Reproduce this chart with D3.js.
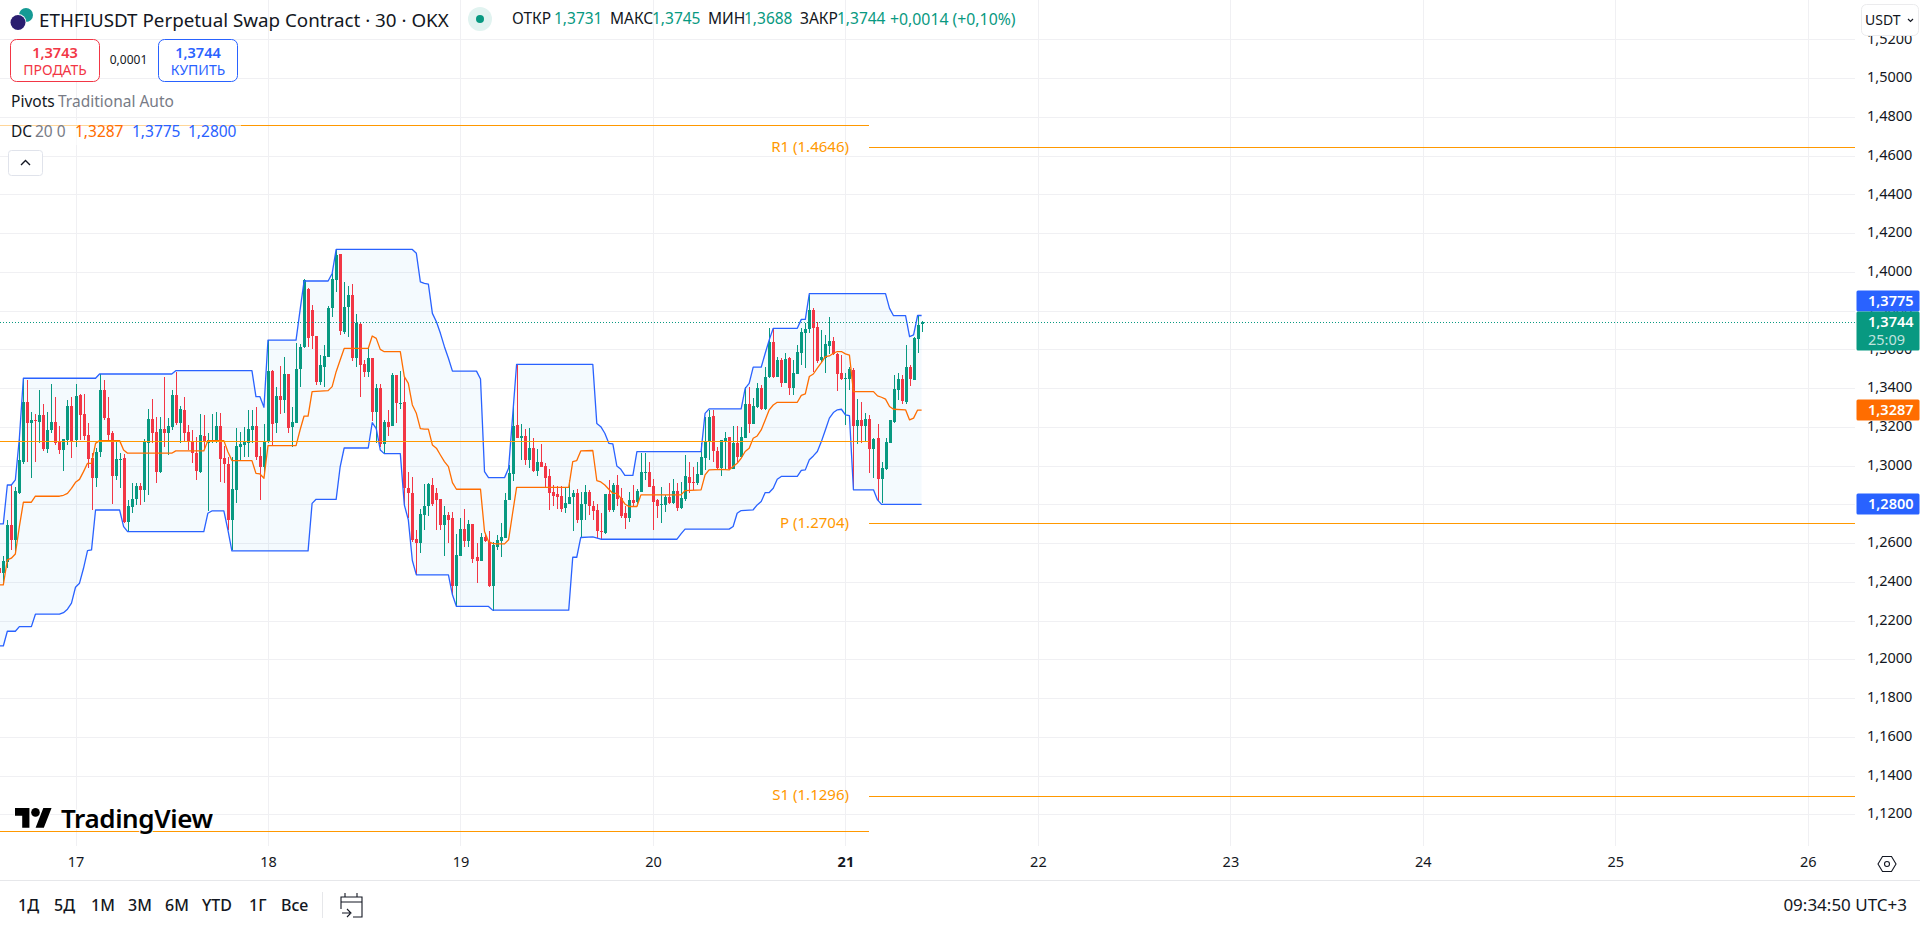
<!DOCTYPE html>
<html lang="ru">
<head>
<meta charset="utf-8">
<title>ETHFIUSDT Perpetual Swap Contract</title>
<script src="https://cdn.jsdelivr.net/npm/d3@7/dist/d3.min.js"></script>
<style>
html,body{margin:0;padding:0;background:#fff;overflow:hidden}
svg{display:block}
text{font-family:"Noto Sans","Open Sans",Roboto,sans-serif}
</style>
</head>
<body>
<svg id="chart" width="1920" height="929"></svg>
<script>
// Half-hour bars, counted from midnight of the 17th; the first bar is number -19.
const firstBar = -19;
const opens = [
1.2470,1.2444,1.2505,1.2694,1.2616,1.2861,1.3017,1.3327,1.3222,1.3234,1.3227,1.3261,1.3088,1.3184,1.3225,1.3122,1.3081,1.3132,1.3308,
1.3132,1.3365,1.3267,1.3158,1.3038,1.2936,1.3072,1.3390,1.3246,1.3169,1.2947,1.3029,1.3040,1.2711,1.2788,1.2828,1.2895,1.2874,1.3119,1.3241,
1.3174,1.2967,1.3189,1.3170,1.3201,1.3365,1.3222,1.3287,1.3174,1.3129,1.3067,1.2967,1.3153,1.3115,1.3129,1.3122,1.3205,1.3040,1.3009,1.2721,
1.2874,1.3098,1.3107,1.3115,1.3184,1.3205,1.3050,1.2991,
1.3124,1.3488,1.3218,1.3359,1.3339,1.3473,1.3201,1.3222,1.3497,1.3611,1.3912,1.3803,1.3669,1.3433,1.3511,1.3562,1.3814,1.3958,1.4092,1.3690,
1.3820,1.3881,1.3556,1.3731,1.3525,1.3483,1.3556,1.3279,1.3401,1.3112,1.3225,1.3205,1.3470,1.3318,1.3327,1.2883,1.2857,1.2620,1.2603,1.2747,
1.2789,1.2900,1.2857,1.2828,1.2694,1.2746,1.2728,1.2376,1.2536,1.2673,1.2613,1.2699,
1.2527,1.2510,1.2634,1.2608,1.2379,1.2582,1.2613,1.2625,1.2820,1.2957,1.3210,1.3141,1.3153,1.3029,1.3091,1.2971,1.3019,1.2998,1.2947,1.2864,
1.2851,1.2844,1.2782,1.2802,1.2840,1.2861,1.2720,1.2802,1.2864,1.2792,1.2771,1.2663,1.2651,1.2854,1.2771,1.2900,1.2832,1.2754,1.2730,1.2823,
1.2813,1.2866,1.2964,1.2967,
1.2897,1.2820,1.2799,1.2799,1.2838,1.2806,1.2871,1.2782,1.2827,1.2940,1.2913,1.2909,1.2952,1.3038,1.3126,1.3257,1.3076,1.2987,1.3129,1.3147,
1.2983,1.3116,1.3047,1.3141,1.3317,1.3215,1.3301,1.3401,1.3293,1.3456,1.3640,1.3460,1.3546,1.3425,1.3554,1.3401,1.3473,1.3583,1.3683,1.3704,
1.3804,1.3714,1.3546,1.3554,1.3618,1.3644,1.3577,1.3477,
1.3448,1.3448,1.3494,1.3202,1.3236,1.3205,1.3239,1.3086,1.3141,1.2933,1.2981,1.3119,1.3227,1.3391,1.3448,1.3331,1.3508,1.3442,1.3654,1.3731
];
const closes = [
1.2444,1.2508,1.2694,1.2616,1.2869,1.3029,1.3327,1.3222,1.3236,1.3230,1.3261,1.3086,1.3184,1.3225,1.3115,1.3081,1.3136,1.3308,1.3129,
1.3359,1.3261,1.3153,1.3036,1.2936,1.3071,1.3390,1.3248,1.3158,1.2947,1.3034,1.3034,1.2711,1.2792,1.2828,1.2895,1.2874,1.3122,1.3241,1.3170,
1.2967,1.3189,1.3170,1.3205,1.3365,1.3218,1.3292,1.3170,1.3124,1.3064,1.2972,1.3158,1.3122,1.3132,1.3132,1.3205,1.3036,1.3009,1.2720,1.2880,
1.3101,1.3112,1.3122,1.3189,1.3205,1.3046,1.2991,1.3127,
1.3488,1.3215,1.3359,1.3339,1.3473,1.3194,1.3225,1.3499,1.3614,1.3958,1.3657,1.3669,1.3433,1.3519,1.3566,1.3814,1.3963,1.4087,1.3695,1.3817,
1.3881,1.3556,1.3738,1.3519,1.3483,1.3556,1.3279,1.3401,1.3112,1.3227,1.3201,1.3470,1.3325,1.3325,1.2884,1.2857,1.2617,1.2603,1.2751,1.2792,
1.2906,1.2802,1.2823,1.2694,1.2746,1.2720,1.2379,1.2539,1.2672,1.2613,1.2699,1.2519,
1.2510,1.2634,1.2613,1.2379,1.2591,1.2617,1.2634,1.2823,1.2961,1.3205,1.3143,1.3153,1.3029,1.3091,1.2974,1.3019,1.2995,1.2937,1.2857,1.2844,
1.2840,1.2778,1.2806,1.2840,1.2861,1.2720,1.2802,1.2864,1.2789,1.2768,1.2660,1.2658,1.2854,1.2771,1.2900,1.2830,1.2740,1.2730,1.2823,1.2806,
1.2871,1.2967,1.2967,1.2892,
1.2814,1.2792,1.2802,1.2837,1.2809,1.2871,1.2782,1.2834,1.2947,1.2909,1.2909,1.2957,1.3042,1.3129,1.3253,1.3073,1.2987,1.3133,1.3141,1.2981,
1.3116,1.3047,1.3147,1.3319,1.3215,1.3308,1.3401,1.3293,1.3456,1.3640,1.3460,1.3546,1.3425,1.3551,1.3399,1.3480,1.3585,1.3688,1.3707,1.3804,
1.3709,1.3542,1.3559,1.3628,1.3644,1.3577,1.3473,1.3446,
1.3451,1.3497,1.3202,1.3236,1.3202,1.3239,1.3086,1.3138,1.2933,1.2987,1.3122,1.3233,1.3394,1.3448,1.3334,1.3508,1.3446,1.3657,1.3726,1.3744
];
const highs = [
1.2496,1.2534,1.2720,1.2900,1.2892,1.3141,1.3451,1.3442,1.3279,1.3267,1.3390,1.3318,1.3277,1.3421,1.3354,1.3205,1.3140,1.3339,1.3356,
1.3421,1.3370,1.3368,1.3222,1.3064,1.3089,1.3473,1.3442,1.3356,1.3179,1.3132,1.3064,1.3060,1.2823,1.2909,1.2909,1.2909,1.3136,1.3292,1.3344,
1.3253,1.3253,1.3457,1.3244,1.3390,1.3485,1.3308,1.3356,1.3210,1.3184,1.3150,1.3267,1.3261,1.3167,1.3267,1.3275,1.3270,1.3101,1.3046,1.3046,
1.3193,1.3174,1.3201,1.3287,1.3287,1.3304,1.3098,1.3215,
1.3648,1.3494,1.3408,1.3514,1.3562,1.3473,1.3304,1.3631,1.3628,1.3961,1.3915,1.3829,1.3669,1.3569,1.3623,1.3824,1.3992,1.4113,1.4092,1.3949,
1.3927,1.3937,1.3783,1.3734,1.3545,1.3605,1.3556,1.3421,1.3421,1.3236,1.3287,1.3476,1.3470,1.3488,1.3459,1.2969,1.2943,1.2668,1.2775,1.2906,
1.2912,1.2935,1.2883,1.2828,1.2789,1.2758,1.2758,1.2648,1.2728,1.2775,1.2720,1.2699,
1.2599,1.2651,1.2654,1.2660,1.2608,1.2642,1.2703,1.2857,1.3004,1.3305,1.3520,1.3215,1.3188,1.3195,1.3141,1.3088,1.3112,1.3012,1.2981,1.2900,
1.2895,1.2895,1.2892,1.2926,1.2875,1.2878,1.2866,1.2900,1.2875,1.2816,1.2802,1.2754,1.2854,1.2926,1.2912,1.2952,1.2883,1.2789,1.2866,1.2900,
1.2878,1.3067,1.3064,1.3019,
1.2930,1.2826,1.2888,1.2849,1.2909,1.2930,1.2912,1.2918,1.3055,1.3021,1.2995,1.3021,1.3116,1.3253,1.3288,1.3288,1.3098,1.3133,1.3176,1.3147,
1.3202,1.3202,1.3198,1.3408,1.3408,1.3348,1.3429,1.3417,1.3511,1.3709,1.3704,1.3559,1.3554,1.3580,1.3559,1.3546,1.3623,1.3709,1.3735,1.3881,
1.3812,1.3743,1.3700,1.3675,1.3769,1.3666,1.3580,1.3571,
1.3477,1.3511,1.3503,1.3343,1.3331,1.3270,1.3262,1.3141,1.3215,1.3021,1.3141,1.3236,1.3468,1.3477,1.3468,1.3623,1.3520,1.3666,1.3778,1.3745
];
const lows = [
1.2384,1.2393,1.2470,1.2565,1.2548,1.2854,1.3007,1.3021,1.2935,1.3021,1.3115,1.3077,1.3064,1.3170,1.3107,1.3060,1.2974,1.3107,1.3040,
1.3098,1.3132,1.3132,1.2986,1.2771,1.2892,1.3046,1.3236,1.3132,1.2802,1.2926,1.2883,1.2702,1.2659,1.2754,1.2797,1.2797,1.2814,1.2849,1.3115,
1.2909,1.2960,1.3098,1.3055,1.3184,1.3210,1.3119,1.3124,1.3081,1.3012,1.2926,1.2960,1.3081,1.2766,1.3115,1.3115,1.2917,1.2909,1.2668,1.2565,
1.2806,1.3029,1.3043,1.3046,1.3115,1.3029,1.2823,1.2960,
1.3115,1.3107,1.3170,1.3267,1.3270,1.3167,1.3095,1.3218,1.3408,1.3605,1.3611,1.3604,1.3416,1.3416,1.3408,1.3562,1.3769,1.3898,1.3674,1.3679,
1.3662,1.3542,1.3507,1.3353,1.3459,1.3459,1.3232,1.3115,1.3098,1.3064,1.3153,1.3205,1.3218,1.3294,1.2797,1.2728,1.2608,1.2436,1.2551,1.2668,
1.2740,1.2792,1.2668,1.2668,1.2531,1.2603,1.2333,1.2273,1.2534,1.2582,1.2582,1.2496,
1.2396,1.2510,1.2608,1.2372,1.2252,1.2565,1.2527,1.2625,1.2820,1.2923,1.3141,1.3029,1.3004,1.2986,1.2969,1.2947,1.2995,1.2888,1.2771,1.2792,
1.2775,1.2761,1.2754,1.2802,1.2665,1.2703,1.2634,1.2720,1.2746,1.2720,1.2625,1.2620,1.2646,1.2763,1.2763,1.2789,1.2728,1.2672,1.2711,1.2789,
1.2789,1.2866,1.2926,1.2888,
1.2668,1.2728,1.2703,1.2758,1.2802,1.2802,1.2768,1.2775,1.2815,1.2858,1.2875,1.2901,1.2952,1.2978,1.3030,1.3021,1.2978,1.2944,1.2978,1.2978,
1.2983,1.3021,1.3047,1.3141,1.3167,1.3215,1.3296,1.3288,1.3288,1.3451,1.3451,1.3456,1.3405,1.3425,1.3365,1.3365,1.3473,1.3520,1.3503,1.3683,
1.3485,1.3528,1.3537,1.3480,1.3577,1.3571,1.3387,1.3442,
1.3210,1.3391,1.2875,1.3112,1.3116,1.3124,1.2961,1.2935,1.2815,1.2806,1.2978,1.3116,1.3222,1.3339,1.3317,1.3317,1.3411,1.3442,1.3580,1.3688
];

// Donchian channel: bar number paired with the level at that bar.
const upperBand = [[-19,1.2699],[-18,1.2699],[-17,1.2900],[-16,1.2900],[-15,1.2926],[-14,1.3141],[-13,1.3451],[5,1.3451],[6,1.3473],[24,1.3473],[25,1.3490],[44,1.3490],[45,1.3356],[46,1.3356],[47,1.3301],[48,1.3648],[55,1.3648],[56,1.3803],[57,1.3953],[63,1.3953],[64,1.3992],[65,1.4116],[84,1.4116],[85,1.4096],[86,1.3949],[87,1.3941],[88,1.3937],[89,1.3786],[90,1.3743],[91,1.3683],[92,1.3614],[93,1.3554],[94,1.3488],[100,1.3488],[101,1.3447],[102,1.2969],[103,1.2938],[107,1.2938],[108,1.2986],[109,1.3253],[110,1.3523],[129,1.3523],[130,1.3218],[131,1.3201],[132,1.3167],[133,1.3115],[134,1.3112],[135,1.2998],[136,1.2981],[137,1.2950],[139,1.2950],[140,1.3072],[156,1.3073],[157,1.3270],[158,1.3293],[166,1.3293],[167,1.3399],[168,1.3425],[169,1.3508],[171,1.3508],[172,1.3580],[173,1.3649],[174,1.3709],[180,1.3709],[181,1.3755],[182,1.3755],[183,1.3888],[202,1.3888],[203,1.3812],[204,1.3774],[207,1.3774],[208,1.3666],[209,1.3675],[210,1.3775],[211,1.3775]];
const lowerBand = [[-19,1.2069],[-18,1.2069],[-17,1.2145],[-15,1.2145],[-14,1.2169],[-11,1.2169],[-10,1.2233],[-4,1.2233],[-3,1.2241],[-2,1.2259],[-1,1.2290],[0,1.2372],[1,1.2393],[2,1.2470],[3,1.2561],[4,1.2565],[5,1.2771],[11,1.2771],[12,1.2685],[13,1.2659],[32,1.2659],[33,1.2754],[34,1.2766],[37,1.2766],[38,1.2668],[39,1.2560],[58,1.2560],[59,1.2805],[60,1.2826],[65,1.2826],[66,1.2994],[67,1.3091],[73,1.3091],[74,1.3222],[75,1.3191],[76,1.3081],[77,1.3062],[81,1.3062],[82,1.2797],[83,1.2720],[84,1.2510],[85,1.2436],[93,1.2436],[94,1.2333],[95,1.2273],[103,1.2273],[104,1.2254],[123,1.2254],[124,1.2527],[125,1.2527],[126,1.2629],[129,1.2632],[131,1.2620],[150,1.2620],[151,1.2648],[152,1.2672],[163,1.2672],[164,1.2686],[165,1.2754],[166,1.2768],[169,1.2772],[170,1.2797],[171,1.2815],[172,1.2861],[173,1.2861],[174,1.2883],[175,1.2930],[176,1.2944],[180,1.2944],[181,1.2975],[182,1.2978],[183,1.3030],[184,1.3050],[185,1.3073],[186,1.3124],[187,1.3184],[188,1.3245],[189,1.3274],[190,1.3288],[191,1.3291],[192,1.3262],[193,1.3258],[194,1.2875],[199,1.2875],[200,1.2823],[201,1.2800],[211,1.2800]];
const basisBand = [[-19,1.2384],[-18,1.2384],[-17,1.2513],[-16,1.2522],[-15,1.2544],[-14,1.2685],[-13,1.2811],[-11,1.2811],[-10,1.2842],[-4,1.2842],[-3,1.2847],[-2,1.2857],[-1,1.2883],[0,1.2914],[1,1.2929],[2,1.2969],[3,1.3012],[4,1.3012],[5,1.3115],[6,1.3129],[11,1.3129],[12,1.3081],[13,1.3064],[24,1.3064],[25,1.3076],[32,1.3076],[33,1.3129],[37,1.3129],[38,1.3072],[39,1.3026],[44,1.3026],[45,1.2960],[46,1.2957],[47,1.2935],[48,1.3103],[55,1.3103],[56,1.3184],[57,1.3256],[58,1.3256],[59,1.3382],[63,1.3387],[64,1.3408],[65,1.3485],[66,1.3545],[67,1.3605],[73,1.3605],[74,1.3669],[75,1.3657],[76,1.3600],[77,1.3588],[81,1.3588],[82,1.3459],[83,1.3425],[84,1.3313],[85,1.3270],[86,1.3191],[87,1.3188],[88,1.3188],[89,1.3107],[90,1.3090],[91,1.3055],[92,1.3021],[93,1.2995],[94,1.2912],[95,1.2878],[101,1.2878],[102,1.2660],[103,1.2608],[104,1.2599],[105,1.2596],[107,1.2596],[108,1.2617],[109,1.2754],[110,1.2888],[123,1.2888],[124,1.3021],[125,1.3026],[126,1.3076],[129,1.3078],[130,1.2923],[131,1.2916],[132,1.2900],[133,1.2878],[134,1.2857],[135,1.2857],[136,1.2832],[137,1.2802],[138,1.2789],[140,1.2789],[141,1.2849],[151,1.2849],[152,1.2871],[156,1.2875],[157,1.2952],[158,1.2978],[161,1.2981],[163,1.2978],[164,1.2995],[165,1.3012],[166,1.3038],[167,1.3073],[168,1.3090],[169,1.3141],[170,1.3153],[171,1.3184],[172,1.3236],[173,1.3288],[174,1.3313],[175,1.3327],[180,1.3327],[181,1.3363],[182,1.3370],[183,1.3460],[184,1.3473],[185,1.3503],[186,1.3532],[187,1.3563],[188,1.3566],[189,1.3580],[190,1.3589],[191,1.3589],[192,1.3577],[193,1.3571],[194,1.3382],[199,1.3382],[200,1.3360],[201,1.3353],[202,1.3343],[203,1.3305],[204,1.3291],[207,1.3288],[208,1.3236],[209,1.3245],[210,1.3287],[211,1.3287]];

// Pivot levels: the previous set ends where the current one begins.
const pivotSwitchBar = 198;
const previousPivots = [1.4760, 1.3128, 1.1115];
const pivotNames = ["R1", "P", "S1"];
const pivotLevels = [1.4646, 1.2704, 1.1296];

const priceTicks = [1.52,1.50,1.48,1.46,1.44,1.42,1.40,1.38,1.36,1.34,1.32,1.30,1.28,1.26,1.24,1.22,1.20,1.18,1.16,1.14,1.12];
const dayLabels = [17,18,19,20,21,22,23,24,25,26];
const rangeLabels = ["1Д","5Д","1М","3М","6М","YTD","1Г","Все"];
const ohlcCaptions = ["ОТКР","МАКС","МИН","ЗАКР"];
const ohlcValues = ["1,3731","1,3745","1,3688","1,3744"];

const GREEN = "#089981", RED = "#f23645", BLUE = "#2962ff", ORANGE = "#ff6d00",
      PIVOT = "#ff9800", INK = "#131722", GREY = "#787b86", GRID = "#f0f0f3", FILL = "#2196f3";
const plotRight = 1855, plotBottom = 846;

const svg = d3.select("#chart");
const x = d3.scaleLinear().domain([0, 432]).range([75.5, 75.5 + 432 * 4.01]);
const y = d3.scaleLinear().domain([1.50, 1.12]).range([78.2, 814.3]);
const comma = v => d3.format(".4f")(v).replace(".", ",");

svg.append("clipPath").attr("id", "plot").append("rect")
  .attr("width", plotRight).attr("height", plotBottom);

// Grid
const grid = svg.append("g").attr("stroke", GRID).attr("shape-rendering", "crispEdges");
grid.selectAll(".h").data(priceTicks).join("line").attr("class", "h")
  .attr("x1", 0).attr("x2", plotRight).attr("y1", d => Math.round(y(d)) + .5).attr("y2", d => Math.round(y(d)) + .5);
grid.selectAll(".v").data(dayLabels).join("line").attr("class", "v")
  .attr("y1", 0).attr("y2", plotBottom)
  .attr("x1", d => Math.round(x((d - 17) * 48)) + .5).attr("x2", d => Math.round(x((d - 17) * 48)) + .5);

const plot = svg.append("g").attr("clip-path", "url(#plot)");

// Channel fill
const bandLine = d3.line().x(d => x(d[0])).y(d => y(d[1]));
plot.append("path")
  .attr("d", bandLine(upperBand.concat(lowerBand.slice().reverse())) + "Z")
  .attr("fill", FILL).attr("fill-opacity", .05);

// Candles
const bars = d3.range(opens.length).map(k => ({
  bar: firstBar + k, o: opens[k], h: highs[k], l: lows[k], c: closes[k]
}));
const candle = plot.append("g").attr("shape-rendering", "crispEdges")
  .selectAll("g").data(bars).join("g")
  .attr("fill", d => d.c >= d.o ? GREEN : RED);
candle.append("rect")
  .attr("x", d => Math.round(x(d.bar)))
  .attr("width", 1)
  .attr("y", d => y(d.h))
  .attr("height", d => y(d.l) - y(d.h));
candle.append("rect")
  .attr("x", d => Math.round(x(d.bar)) - 1)
  .attr("width", 3)
  .attr("y", d => y(Math.max(d.o, d.c)))
  .attr("height", d => Math.max(1, Math.abs(y(d.o) - y(d.c))));

// Channel lines
[[upperBand, BLUE], [lowerBand, BLUE], [basisBand, ORANGE]].forEach(([pts, col]) => {
  plot.append("path").attr("d", bandLine(pts)).attr("fill", "none")
    .attr("stroke", col).attr("stroke-width", 1.3).attr("stroke-linejoin", "round");
});

// Pivot levels
const pivotX = x(pivotSwitchBar);
svg.append("g").attr("stroke", PIVOT).attr("shape-rendering", "crispEdges")
  .selectAll("line").data(previousPivots).join("line")
  .attr("x1", 0).attr("x2", pivotX)
  .attr("y1", d => Math.round(y(d)) + .5).attr("y2", d => Math.round(y(d)) + .5);
svg.append("g").attr("stroke", PIVOT).attr("shape-rendering", "crispEdges")
  .selectAll("line").data(pivotLevels).join("line")
  .attr("x1", pivotX).attr("x2", plotRight)
  .attr("y1", d => Math.round(y(d)) + .5).attr("y2", d => Math.round(y(d)) + .5);
svg.append("g").selectAll("text").data(pivotLevels).join("text")
  .attr("x", pivotX - 20.5).attr("y", d => y(d) - .5).attr("dy", "0.35em")
  .attr("text-anchor", "end").attr("font-size", 15).attr("fill", PIVOT)
  .text((d, k) => `${pivotNames[k]} (${d3.format(".4f")(d)})`);

// Last price line
svg.append("line").attr("x1", 0).attr("x2", plotRight)
  .attr("y1", Math.round(y(closes[closes.length - 1])) + .5).attr("y2", Math.round(y(closes[closes.length - 1])) + .5)
  .attr("stroke", GREEN).attr("stroke-dasharray", "1 2");

// Price axis
const yAxis = svg.append("g").attr("transform", `translate(${1867},-1)`)
  .call(d3.axisRight(y).tickValues(priceTicks).tickSize(0).tickPadding(0).tickFormat(comma));
yAxis.select(".domain").remove();
yAxis.selectAll("text").attr("font-size", 14.5).attr("fill", INK).attr("font-family", "inherit");

// Time axis
const xAxis = svg.append("g").attr("transform", `translate(0,${plotBottom})`)
  .call(d3.axisBottom(x).tickValues(dayLabels.map(d => (d - 17) * 48)).tickSize(0).tickPadding(11)
    .tickFormat(v => dayLabels[v / 48]));
xAxis.select(".domain").remove();
xAxis.selectAll("text").attr("font-size", 14.5).attr("fill", INK).attr("font-family", "inherit")
  .attr("font-weight", v => dayLabels[v / 48] === 21 ? 700 : 400);

// Price tags on the axis; a tag that would collide with the last price sits just above it
function priceTag(value, color, centre) {
  const cy = centre === undefined ? Math.round(y(value)) : centre;
  svg.append("rect").attr("x", 1856.5).attr("width", 63).attr("y", cy - 10.5).attr("height", 21)
    .attr("rx", 1.5).attr("fill", color);
  svg.append("text").attr("x", 1868).attr("y", cy).attr("dy", "0.35em").attr("font-size", 14.5)
    .attr("font-weight", 600).attr("fill", "#fff").text(comma(value));
}
{
  const last = closes[closes.length - 1], cy = Math.round(y(last));
  priceTag(upperBand[upperBand.length - 1][1], BLUE, cy - 21);
  priceTag(basisBand[basisBand.length - 1][1], ORANGE);
  priceTag(lowerBand[lowerBand.length - 1][1], BLUE);
  svg.append("rect").attr("x", 1856.5).attr("width", 63).attr("y", cy - 10.5).attr("height", 39)
    .attr("rx", 1.5).attr("fill", GREEN);
  svg.append("text").attr("x", 1868).attr("y", cy).attr("dy", "0.35em").attr("font-size", 14.5)
    .attr("font-weight", 600).attr("fill", "#fff").text(comma(last));
  svg.append("text").attr("x", 1868).attr("y", cy + 18).attr("dy", "0.35em").attr("font-size", 14.5)
    .attr("fill", "#fff").attr("fill-opacity", .75).text("25:09");
}

// Currency button
svg.append("rect").attr("x", 1861.5).attr("y", 4.5).attr("width", 57).attr("height", 31)
  .attr("rx", 5).attr("fill", "#fff").attr("stroke", "#ebebed");
svg.append("text").attr("x", 1865).attr("y", 20).attr("dy", "0.35em").attr("font-size", 14)
  .attr("fill", INK).text("USDT");
svg.append("path").attr("d", "M1908 19l2.5 2.5l2.5-2.5").attr("fill", "none").attr("stroke", INK).attr("stroke-width", 1.2);

// Header: symbol badge, title, status, OHLC
svg.append("circle").attr("cx", 26).attr("cy", 15).attr("r", 7).attr("fill", "#159a94");
svg.append("circle").attr("cx", 18).attr("cy", 22.5).attr("r", 8.5).attr("fill", "#fff");
svg.append("circle").attr("cx", 18).attr("cy", 22.5).attr("r", 7.5).attr("fill", "#2a1e70");
svg.append("text").attr("x", 39).attr("y", 20).attr("dy", "0.35em").attr("font-size", 18.8)
  .attr("fill", INK).text("ETHFIUSDT Perpetual Swap Contract · 30 · OKX");
svg.append("circle").attr("cx", 480).attr("cy", 19).attr("r", 12).attr("fill", GREEN).attr("fill-opacity", .12);
svg.append("circle").attr("cx", 480).attr("cy", 19).attr("r", 4).attr("fill", GREEN);

const ohlcCaptionX = [512, 610, 708, 800], ohlcValueX = [554, 652, 744, 837];
ohlcCaptions.forEach((c, k) => {
  svg.append("text").attr("x", ohlcCaptionX[k]).attr("y", 19).attr("dy", "0.35em").attr("font-size", 15.5)
    .attr("fill", INK).text(c);
  svg.append("text").attr("x", ohlcValueX[k]).attr("y", 19).attr("dy", "0.35em").attr("font-size", 15.5)
    .attr("fill", GREEN).text(ohlcValues[k]);
});
svg.append("text").attr("x", 890).attr("y", 19).attr("dy", "0.35em").attr("font-size", 15.8)
  .attr("fill", GREEN).text("+0,0014 (+0,10%)");

// Order buttons
function orderButton(x0, w, color, price, label) {
  svg.append("rect").attr("x", x0).attr("y", 39.5).attr("width", w).attr("height", 42).attr("rx", 6)
    .attr("fill", "#fff").attr("stroke", color);
  svg.append("text").attr("x", x0 + w / 2).attr("y", 53).attr("dy", "0.35em").attr("text-anchor", "middle")
    .attr("font-size", 14.5).attr("font-weight", 600).attr("fill", color).text(price);
  svg.append("text").attr("x", x0 + w / 2).attr("y", 70).attr("dy", "0.35em").attr("text-anchor", "middle")
    .attr("font-size", 14).attr("fill", color).text(label);
}
orderButton(10.5, 89, RED, "1,3743", "ПРОДАТЬ");
orderButton(158.5, 79, BLUE, "1,3744", "КУПИТЬ");
svg.append("text").attr("x", 128.5).attr("y", 60).attr("dy", "0.35em").attr("text-anchor", "middle")
  .attr("font-size", 12).attr("fill", INK).text("0,0001");

// Indicator legend
svg.append("rect").attr("x", 0).attr("y", 120).attr("width", 241).attr("height", 25).attr("fill", "#fff").attr("fill-opacity", .6);
const legend = (t, xp, yp, col) => svg.append("text").attr("x", xp).attr("y", yp).attr("dy", "0.35em")
  .attr("font-size", 15.5).attr("fill", col).text(t);
legend("Pivots", 11, 101.5, INK);
legend("Traditional Auto", 58, 101.5, GREY);
legend("DC", 11, 132, INK);
legend("20 0", 35, 132, GREY);
legend(comma(basisBand[basisBand.length - 1][1]), 75, 132, ORANGE);
legend(comma(upperBand[upperBand.length - 1][1]), 132, 132, BLUE);
legend(comma(lowerBand[lowerBand.length - 1][1]), 188, 132, BLUE);
svg.append("rect").attr("x", 8.5).attr("y", 150.5).attr("width", 34).attr("height", 25).attr("rx", 3)
  .attr("fill", "#fff").attr("stroke", "#e0e3eb");
svg.append("path").attr("d", "M21 165l4.5-4.5l4.5 4.5").attr("fill", "none").attr("stroke", INK).attr("stroke-width", 1.4);

// Brand mark
const brand = svg.append("g").attr("transform", "translate(15,808)");
brand.append("path").attr("transform", "scale(1.03,1.1)")
  .attr("d", "M14 18H7V7H0V0h14v18zM28 18h-8l7.5-18h8L28 18z").attr("fill", "#000")
  .attr("stroke", "#fff").attr("stroke-width", 1.5).attr("paint-order", "stroke");
brand.append("circle").attr("cx", 20.5).attr("cy", 4.4).attr("r", 4.3).attr("fill", "#000");
svg.append("text").attr("x", 61).attr("y", 828).attr("font-size", 26).attr("font-weight", 600)
  .attr("letter-spacing", "-0.4").attr("fill", "#000")
  .attr("stroke", "#fff").attr("stroke-width", 2).attr("paint-order", "stroke").text("TradingView");

// Gear button on the scale corner
const gear = svg.append("g").attr("transform", "translate(1887,864)").attr("fill", "none").attr("stroke", INK).attr("stroke-width", 1.1);
gear.append("path").attr("d", "M-9 0L-4.5-7.5H4.5L9 0L4.5 7.5H-4.5Z");
gear.append("circle").attr("r", 2.5);

// Bottom toolbar
svg.append("line").attr("x1", 0).attr("x2", 1920).attr("y1", 880.5).attr("y2", 880.5).attr("stroke", "#e6e7ea");
const rangeX = [18, 54, 91, 128, 165, 202, 249, 281];
svg.append("g").selectAll("text").data(rangeLabels).join("text")
  .attr("x", (d, k) => rangeX[k]).attr("y", 905).attr("dy", "0.35em").attr("font-size", 16)
  .attr("font-weight", 500).attr("fill", INK).text(d => d);
svg.append("line").attr("x1", 322.5).attr("x2", 322.5).attr("y1", 892).attr("y2", 918).attr("stroke", "#e6e7ea");
svg.append("path").attr("transform", "translate(340,893)").attr("fill", "none").attr("stroke", INK).attr("stroke-width", 1.1)
  .attr("d", "M5 0v4M17 0v4M1 9V4h21v20H13M1 9h21M1 9v7M2 20h8M7 16l4 4l-4 4");
svg.append("text").attr("x", 1907).attr("y", 905).attr("dy", "0.35em").attr("text-anchor", "end").attr("font-size", 17)
  .attr("fill", INK).text("09:34:50 UTC+3");
</script>
</body>
</html>
